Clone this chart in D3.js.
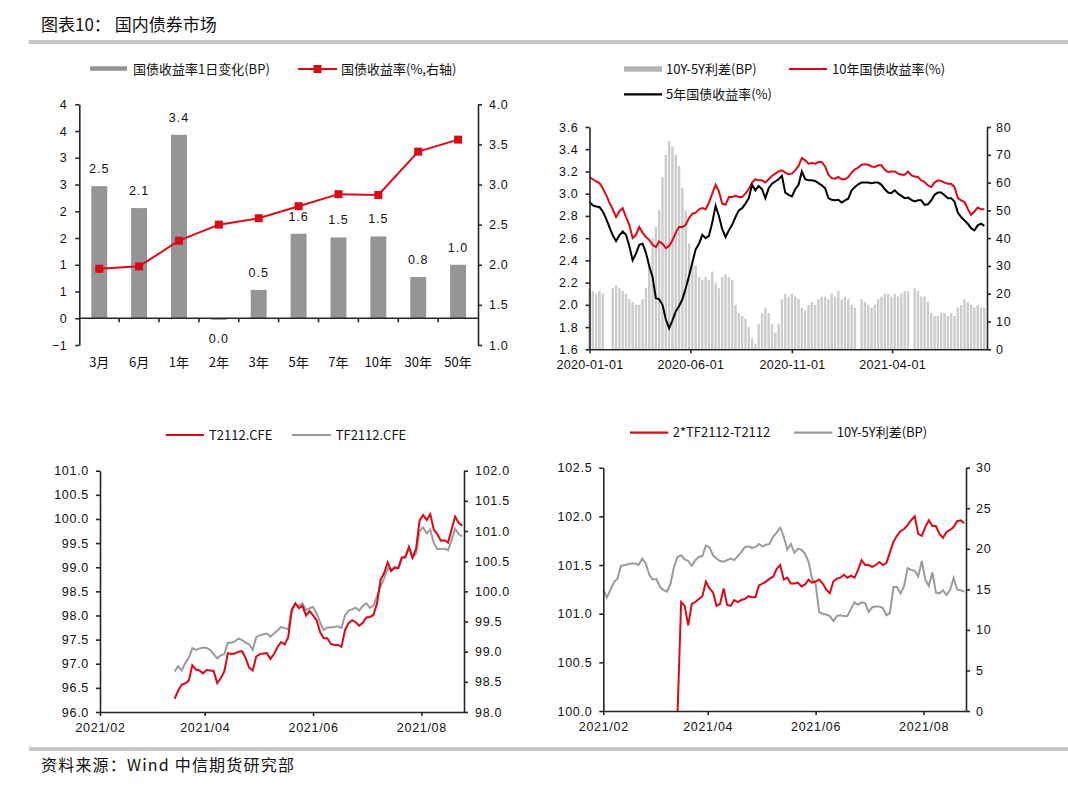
<!DOCTYPE html>
<html><head><meta charset="utf-8">
<script src="https://cdn.jsdelivr.net/npm/d3@7"></script>
<style>
body{margin:0;background:#fff;}
svg text{font-family:"Noto Sans CJK SC","Noto Sans",sans-serif;fill:#111;}
</style></head><body>
<svg id="c" width="1068" height="787"></svg>
<script>
// ---------------- DATA ----------------
// Panel 1: yield curve
const p1Categories = ["3月","6月","1年","2年","3年","5年","7年","10年","30年","50年"];
const p1Change = [2.47,2.06,3.43,-0.03,0.53,1.58,1.51,1.53,0.77,1.0];   // BP, left axis
const p1Yield  = [1.95,1.98,2.30,2.50,2.58,2.73,2.88,2.87,3.41,3.56];   // %, right axis
const p1LeftTicks = [-0.5,0,0.5,1,1.5,2,2.5,3,3.5,4];
const p1LeftTickLabels = ["−1","0","1","1","2","2","3","3","4","4"];
const p1RightTicks = [1.0,1.5,2.0,2.5,3.0,3.5,4.0];

// Panel 2: 10Y / 5Y yields and spread (sampled every 5 days from 2020-01-01)
const p2Start = "2020-01-01";
const p2StepDays = 5;
const p2Y10 = [3.15,3.13,3.11,3.095,3.05,2.99,2.92,2.86,2.79,2.84,
2.87,2.79,2.72,2.60,2.63,2.70,2.65,2.61,2.585,2.54,
2.52,2.57,2.55,2.51,2.53,2.58,2.65,2.70,2.70,2.72,
2.78,2.82,2.83,2.86,2.87,2.86,2.92,3.00,3.08,3.02,
2.91,2.90,2.97,2.97,2.98,2.97,2.97,3.00,3.04,3.10,
3.13,3.12,3.12,3.10,3.13,3.16,3.18,3.20,3.21,3.19,
3.175,3.18,3.21,3.25,3.32,3.30,3.27,3.275,3.27,3.285,
3.285,3.245,3.17,3.14,3.135,3.15,3.13,3.13,3.15,3.19,
3.22,3.235,3.26,3.265,3.26,3.245,3.24,3.255,3.255,3.215,
3.195,3.20,3.20,3.18,3.17,3.17,3.20,3.165,3.155,3.15,
3.12,3.105,3.075,3.06,3.10,3.12,3.115,3.10,3.09,3.09,
3.06,2.96,2.94,2.925,2.865,2.81,2.84,2.875,2.86,2.86];
const p2Y5 = [2.925,2.895,2.885,2.88,2.84,2.775,2.70,2.625,2.575,2.625,
2.66,2.63,2.53,2.40,2.46,2.54,2.55,2.47,2.35,2.25,
2.06,2.05,2.00,1.87,1.79,1.86,1.94,1.99,2.05,2.15,
2.26,2.38,2.50,2.55,2.63,2.60,2.62,2.74,2.89,2.80,
2.68,2.61,2.67,2.72,2.79,2.85,2.87,2.91,2.96,3.08,
3.03,3.07,3.04,2.96,3.05,3.09,3.11,3.13,3.16,3.01,
2.99,2.975,3.04,3.08,3.20,3.13,3.12,3.12,3.115,3.095,
3.075,3.05,2.96,2.945,2.94,2.945,2.92,2.94,2.955,3.03,
3.06,3.085,3.10,3.10,3.10,3.095,3.10,3.10,3.08,3.04,
3.01,3.005,3.03,3.00,2.98,2.96,2.965,2.945,2.93,2.94,
2.94,2.90,2.905,2.94,2.99,3.01,3.01,2.985,2.96,2.96,
2.93,2.83,2.79,2.76,2.73,2.69,2.67,2.715,2.73,2.71];
const p2Spread = [22,21,20,21,20,0,0,22,23,22,
21,20,18,17,16,16,18,22,30,40,
44,50,62,70,75,73,70,66,58,50,
38,32,30,26,25,26,25,28,24,22,
26,27,26,25,16,13,12,11,8,4,
2,9,13,15,13,9,6,9,18,20,
19,20,19,18,15,14,16,17,16,18,
19,19,18,20,19,21,18,19,18,16,
15,0,18,17,16,15,16,18,19,20,
20,19,20,19,20,21,21,0,22,21,
19,19,17,13,12,12,13,13,12,13,
12,15,16,18,17,16,15,16,15,15];
const p2XTicks = ["2020-01-01","2020-06-01","2020-11-01","2021-04-01"];

// Panel 3: futures prices (sampled every 2 days from 2021-03-15)
const p3Start = "2021-03-15";
const p3StepDays = 2;
const p3T = [96.27,96.44,96.57,96.59,96.65,96.97,96.88,96.86,96.80,96.87,
96.86,96.85,96.60,96.70,96.84,97.22,97.20,97.21,97.25,97.26,
97.12,96.92,96.86,97.15,97.20,97.21,97.22,97.10,97.20,97.35,
97.45,97.40,97.55,98.11,98.25,98.15,98.20,98.00,98.09,98.00,
97.90,97.65,97.53,97.53,97.41,97.39,97.39,97.35,97.70,97.84,
97.90,97.86,97.79,97.85,97.96,97.97,98.01,98.25,98.74,98.88,
99.10,98.92,98.99,98.98,99.20,99.22,99.42,99.20,99.38,99.97,
100.08,99.98,100.10,99.78,99.68,99.55,99.56,99.51,99.78,100.05,
99.92,99.86];
const p3TF = [98.67,98.76,98.69,98.81,98.90,99.06,99.03,99.05,99.07,99.06,
99.03,98.96,98.89,98.94,98.96,99.15,99.15,99.17,99.22,99.19,
99.15,99.12,99.03,99.24,99.27,99.29,99.30,99.25,99.30,99.35,
99.41,99.39,99.37,99.70,99.79,99.76,99.80,99.69,99.72,99.74,
99.64,99.48,99.36,99.40,99.40,99.41,99.42,99.39,99.60,99.68,
99.70,99.73,99.68,99.76,99.80,99.73,99.76,99.92,100.08,100.21,
100.38,100.36,100.41,100.38,100.56,100.55,100.73,100.55,100.63,101.00,
101.06,100.96,101.02,100.80,100.70,100.70,100.71,100.68,100.85,101.04,
100.95,100.91];
const futXTicks = ["2021-02-01","2021-04-01","2021-06-01","2021-08-01"];

// Panel 4: 2*TF-T and 10Y-5Y spread (every 2 days)
const p4SpreadStart = "2021-02-01";
const p4BasisStart = "2021-03-15";
const p4StepDays = 2;
const p4Spread = [14.9,14.0,14.9,15.9,16.3,17.9,18.0,18.1,18.2,18.2,
18.0,18.8,18.2,16.8,16.2,16.3,15.3,14.9,14.7,15.7,
17.8,19.0,19.2,18.7,18.5,17.9,18.6,19.0,19.1,20.4,
20.2,19.2,18.8,18.5,18.4,18.6,18.8,18.6,19.1,19.6,
20.2,20.3,20.1,20.2,20.6,20.3,20.5,20.6,21.5,22.0,
22.6,21.5,19.9,20.6,19.5,20.0,19.9,19.4,18.4,16.3,
15.7,12.2,12.0,11.9,11.7,11.1,11.7,11.8,11.7,11.7,
12.6,13.4,13.1,13.4,13.3,12.2,12.8,12.9,12.9,12.7,
11.8,12.1,15.3,15.3,14.5,15.4,17.6,17.4,17.3,16.6,
18.5,16.2,15.4,17.1,14.6,14.5,14.9,14.3,14.9,16.4,
15.0,14.9,14.7];
const p4Basis = [100.0,101.12,101.08,100.88,101.10,101.12,101.15,101.18,101.33,101.26,
101.22,101.08,101.10,101.26,101.09,101.08,101.14,101.12,101.14,101.15,
101.18,101.17,101.17,101.29,101.31,101.33,101.36,101.38,101.46,101.50,
101.35,101.37,101.31,101.31,101.32,101.28,101.30,101.35,101.32,101.33,
101.35,101.31,101.25,101.21,101.33,101.36,101.37,101.40,101.37,101.39,
101.37,101.45,101.55,101.50,101.50,101.48,101.50,101.53,101.50,101.52,
101.63,101.74,101.80,101.85,101.87,101.91,101.96,102.00,101.82,101.80,
101.89,101.96,101.90,101.90,101.82,101.78,101.84,101.86,101.89,101.95,
101.96,101.93];

// ---------------- DRAWING ----------------
const svg = d3.select("#c");
const FONT = '"Noto Sans CJK SC","Noto Sans",sans-serif';
const NUMFONT = '"Liberation Sans","Noto Sans",sans-serif';
const RED = "#dc0a17", AX = "#262626", GRAYLINE = "#9b9b9b";
const parse = d3.timeParse("%Y-%m-%d");
const seriesDates = (start, step, n) => d3.range(n).map(i => d3.timeDay.offset(parse(start), i * step));

// header / footer
svg.append("text").attr("x",41).attr("y",31).attr("font-size",17).text("图表10： 国内债券市场");
svg.append("rect").attr("x",29).attr("y",40).attr("width",1039).attr("height",4).attr("fill","#c6c6c6");
svg.append("rect").attr("x",29).attr("y",747).attr("width",1039).attr("height",4).attr("fill","#c6c6c6");
svg.append("text").attr("x",41).attr("y",771).attr("font-size",16).style("letter-spacing","1.2px").text("资料来源：Wind 中信期货研究部");

function styleAxis(g, numeric=true){
  g.attr("font-family", numeric ? NUMFONT : FONT).attr("font-size", numeric ? 12.5 : 13);
  g.selectAll("path.domain").attr("stroke",AX).attr("stroke-width",1.6);
  g.selectAll(".tick line").attr("stroke",AX).attr("stroke-width",1.6);
  g.selectAll(".tick text").attr("fill","#111")
    .style("font-family", numeric ? NUMFONT : FONT)
    .style("letter-spacing", numeric ? "0.7px" : "0px");
}
function legendText(x,y,t){ svg.append("text").attr("x",x).attr("y",y).attr("dy","0.36em").attr("font-size",13).text(t); }
function legendLine(x1,x2,y,c){ svg.append("line").attr("x1",x1).attr("x2",x2).attr("y1",y).attr("y2",y).attr("stroke",c).attr("stroke-width",2.2); }
function legendRect(x1,x2,y,h,c){ svg.append("rect").attr("x",x1).attr("y",y-h/2).attr("width",x2-x1).attr("height",h).attr("fill",c); }

// ===== Panel 1 =====
(function(){
  const L=79.3, R=478, T=104.3, B=345;
  const x = d3.scaleBand().domain(p1Categories).range([L,R]).paddingInner(0.6).paddingOuter(0.3);
  const yL = d3.scaleLinear().domain([-0.5,4]).range([B,T]);
  const yR = d3.scaleLinear().domain([1.0,4.0]).range([B,T]);
  const fmt1 = v => { const s = d3.format(".1f")(v); return s.replace("−0.0","0.0"); };

  // legend
  legendRect(90,127,68.5,4.5,"#959595"); legendText(133,69,"国债收益率1日变化(BP)");
  legendLine(298,337,69,RED);
  svg.append("rect").attr("x",313.5).attr("y",65).attr("width",8).attr("height",8).attr("fill",RED);
  legendText(341,69,"国债收益率(%,右轴)");

  // bars
  svg.append("g").selectAll("rect").data(p1Categories).join("rect")
    .attr("x",d=>x(d)).attr("width",x.bandwidth())
    .attr("y",(d,i)=>Math.min(yL(p1Change[i]),yL(0)))
    .attr("height",(d,i)=>Math.abs(yL(p1Change[i])-yL(0)))
    .attr("fill","#959595");
  // value labels
  svg.append("g").selectAll("text").data(p1Categories).join("text")
    .attr("x",d=>x(d)+x.bandwidth()/2)
    .attr("y",(d,i)=>p1Change[i]>=0 ? yL(p1Change[i])-13 : yL(p1Change[i])+23)
    .attr("text-anchor","middle").attr("font-size",12.5)
    .style("font-family",NUMFONT).style("letter-spacing","1px")
    .text((d,i)=>fmt1(p1Change[i]));

  // left axis
  const gl = svg.append("g").attr("transform",`translate(${L},0)`)
    .call(d3.axisLeft(yL).tickValues(p1LeftTicks).tickFormat((d,i)=>p1LeftTickLabels[i]).tickSize(4).tickSizeOuter(0).tickPadding(8));
  styleAxis(gl);
  const gr = svg.append("g").attr("transform",`translate(${R},0)`)
    .call(d3.axisRight(yR).tickValues(p1RightTicks).tickFormat(d3.format(".1f")).tickSize(4).tickSizeOuter(0).tickPadding(7));
  styleAxis(gr);
  // zero line with category boundary ticks
  const y0 = yL(0);
  svg.append("line").attr("x1",L).attr("x2",R).attr("y1",y0).attr("y2",y0).attr("stroke",AX).attr("stroke-width",1.6);
  const step = x.step();
  svg.append("g").selectAll("line").data(d3.range(1,p1Categories.length)).join("line")
    .attr("x1",i=>L+i*step).attr("x2",i=>L+i*step).attr("y1",y0).attr("y2",y0+4)
    .attr("stroke",AX).attr("stroke-width",1.6);
  // category labels
  const gx = svg.append("g").attr("transform",`translate(0,${B})`)
    .call(d3.axisBottom(x).tickSize(0).tickPadding(13));
  gx.select("path.domain").remove();
  styleAxis(gx,false);

  // yield line
  const line = d3.line().x((d,i)=>x(p1Categories[i])+x.bandwidth()/2).y(d=>yR(d));
  svg.append("path").datum(p1Yield).attr("d",line).attr("fill","none").attr("stroke",RED).attr("stroke-width",2);
  svg.append("g").selectAll("rect").data(p1Yield).join("rect")
    .attr("x",(d,i)=>x(p1Categories[i])+x.bandwidth()/2-4).attr("y",d=>yR(d)-4)
    .attr("width",8).attr("height",8).attr("fill",RED);
})();

// ===== Panel 2 =====
(function(){
  const L=589.5, R=987, T=127, B=349.3;
  const dates = seriesDates(p2Start, p2StepDays, p2Y10.length);
  const x = d3.scaleTime().domain([parse("2020-01-01"), parse("2021-08-22")]).range([L,R]);
  const yL = d3.scaleLinear().domain([1.6,3.6]).range([B,T]);
  const yR = d3.scaleLinear().domain([0,80]).range([B,T]);

  legendRect(624,662,69,5.5,"#b4b4b4"); legendText(666,69,"10Y-5Y利差(BP)");
  legendLine(789,827,69,RED); legendText(832,69,"10年国债收益率(%)");
  legendLine(624,662,94.3,"#000"); legendText(666,94.3,"5年国债收益率(%)");

  svg.append("g").selectAll("rect").data(p2Spread).join("rect")
    .attr("x",(d,i)=>x(dates[i])-1.2).attr("width",2.4)
    .attr("y",d=>yR(d)).attr("height",d=>B-yR(d))
    .attr("fill","#cccccc");

  const mk = arr => d3.line().x((d,i)=>x(dates[i])).y(d=>yL(d))(arr);
  svg.append("path").attr("d",mk(p2Y10)).attr("fill","none").attr("stroke",RED).attr("stroke-width",2);
  svg.append("path").attr("d",mk(p2Y5)).attr("fill","none").attr("stroke","#000").attr("stroke-width",2);

  const gl = svg.append("g").attr("transform",`translate(${L},0)`)
    .call(d3.axisLeft(yL).tickValues(d3.range(0,11).map(i=>1.6+i*0.2)).tickFormat(d3.format(".1f")).tickSize(4).tickSizeOuter(0).tickPadding(7));
  styleAxis(gl);
  const gr = svg.append("g").attr("transform",`translate(${R},0)`)
    .call(d3.axisRight(yR).tickValues(d3.range(0,81,10)).tickSize(4).tickSizeOuter(0).tickPadding(5));
  styleAxis(gr);
  const gx = svg.append("g").attr("transform",`translate(0,${B})`)
    .call(d3.axisBottom(x).tickValues(p2XTicks.map(parse)).tickFormat(d3.timeFormat("%Y-%m-%d")).tickSize(4).tickSizeOuter(0).tickPadding(7));
  styleAxis(gx);
  gx.selectAll(".tick text").style("letter-spacing","0.3px");
})();

// ===== Panel 3 =====
(function(){
  const L=100, R=464, T=470.7, B=712;
  const dates = seriesDates(p3Start, p3StepDays, p3T.length);
  const x = d3.scaleTime().domain([parse("2021-02-01"), parse("2021-08-25")]).range([L,R]);
  const yL = d3.scaleLinear().domain([96,101]).range([B,T]);
  const yR = d3.scaleLinear().domain([98,102]).range([B,T]);

  legendLine(165.7,204,435,RED); legendText(209,435,"T2112.CFE");
  legendLine(292,331,435,GRAYLINE); legendText(335.7,435,"TF2112.CFE");

  svg.append("path").attr("d",d3.line().x((d,i)=>x(dates[i])).y(d=>yR(d))(p3TF))
    .attr("fill","none").attr("stroke",GRAYLINE).attr("stroke-width",2);
  svg.append("path").attr("d",d3.line().x((d,i)=>x(dates[i])).y(d=>yL(d))(p3T))
    .attr("fill","none").attr("stroke",RED).attr("stroke-width",2);

  const gl = svg.append("g").attr("transform",`translate(${L},0)`)
    .call(d3.axisLeft(yL).tickValues(d3.range(0,11).map(i=>96+i*0.5)).tickFormat(d3.format(".1f")).tickSize(4).tickSizeOuter(0).tickPadding(7));
  styleAxis(gl);
  const gr = svg.append("g").attr("transform",`translate(${R},0)`)
    .call(d3.axisRight(yR).tickValues(d3.range(0,9).map(i=>98+i*0.5)).tickFormat(d3.format(".1f")).tickSize(4).tickSizeOuter(0).tickPadding(7));
  styleAxis(gr);
  const gx = svg.append("g").attr("transform",`translate(0,${B})`)
    .call(d3.axisBottom(x).tickValues(futXTicks.map(parse)).tickFormat(d3.timeFormat("%Y/%m")).tickSize(4).tickSizeOuter(0).tickPadding(7));
  styleAxis(gx);
})();

// ===== Panel 4 =====
(function(){
  const L=603.3, R=966, T=467.7, B=711;
  const sDates = seriesDates(p4SpreadStart, p4StepDays, p4Spread.length);
  const bDates = seriesDates(p4BasisStart, p4StepDays, p4Basis.length);
  const x = d3.scaleTime().domain([parse("2021-02-01"), parse("2021-08-25")]).range([L,R]);
  const yL = d3.scaleLinear().domain([100,102.5]).range([B,T]);
  const yR = d3.scaleLinear().domain([0,30]).range([B,T]);

  legendLine(630,668.3,432.7,RED); legendText(672.7,432.7,"2*TF2112-T2112");
  legendLine(794,832.3,432.7,GRAYLINE); legendText(836.7,432.7,"10Y-5Y利差(BP)");

  svg.append("path").attr("d",d3.line().x((d,i)=>x(sDates[i])).y(d=>yR(d))(p4Spread))
    .attr("fill","none").attr("stroke",GRAYLINE).attr("stroke-width",2);
  svg.append("path").attr("d",d3.line().x((d,i)=>x(bDates[i])).y(d=>yL(d))(p4Basis))
    .attr("fill","none").attr("stroke",RED).attr("stroke-width",2);

  const gl = svg.append("g").attr("transform",`translate(${L},0)`)
    .call(d3.axisLeft(yL).tickValues(d3.range(0,6).map(i=>100+i*0.5)).tickFormat(d3.format(".1f")).tickSize(4).tickSizeOuter(0).tickPadding(7));
  styleAxis(gl);
  const gr = svg.append("g").attr("transform",`translate(${R},0)`)
    .call(d3.axisRight(yR).tickValues(d3.range(0,31,5)).tickSize(4).tickSizeOuter(0).tickPadding(6));
  styleAxis(gr);
  const gx = svg.append("g").attr("transform",`translate(0,${B})`)
    .call(d3.axisBottom(x).tickValues(futXTicks.map(parse)).tickFormat(d3.timeFormat("%Y/%m")).tickSize(4).tickSizeOuter(0).tickPadding(7));
  styleAxis(gx);
})();
</script>
</body></html>
